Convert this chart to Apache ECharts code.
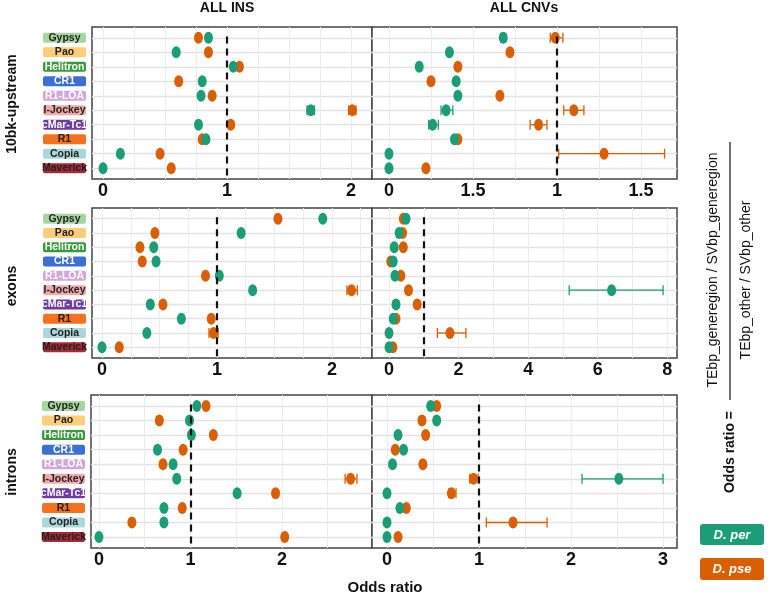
<!DOCTYPE html>
<html>
<head>
<meta charset="utf-8">
<script src="https://cdn.jsdelivr.net/npm/echarts@6/dist/echarts.min.js"></script>
<style>
html,body{margin:0;padding:0;background:#fff}
#main{width:770px;height:597px}
</style>
</head>
<body>
<div id="main"></div>
<script>
var families = ['Gypsy','Pao','Helitron','CR1','R1-LOA','I-Jockey','cMar-Tc1','R1','Copia','Maverick'];
var familyColors = ['#a6d6a0','#fdcd7a','#379b3c','#3b6fd2','#d2a6da','#f3a9a9','#6b3ca2','#f5711d','#aad7d7','#a42a36'];
var familyText = ['#222','#222','#fff','#fff','#fff','#222','#fff','#222','#222','#222'];

// odds ratios, one value per family (same order as families)
var insUpPer = [0.85, 0.59, 1.05, 0.80, 0.79, 1.675, 0.77, 0.83, 0.14, 0.0];
var insUpPse = [0.77, 0.85, 1.10, 0.61, 0.88, 2.01, 1.03, 0.80, 0.46, 0.55];
var cnvUpPer = [0.68, 0.36, 0.18, 0.40, 0.41, 0.34, 0.26, 0.39, 0.0, 0.0];
var cnvUpPse = [0.99, 0.72, 0.41, 0.25, 0.66, 1.10, 0.89, 0.41, 1.28, 0.22];
var insExPer = [1.92, 1.21, 0.45, 0.47, 1.02, 1.31, 0.42, 0.69, 0.39, 0.0];
var insExPse = [1.53, 0.46, 0.33, 0.35, 0.90, 2.17, 0.53, 0.95, 0.97, 0.15];
var cnvExPer = [0.49, 0.29, 0.15, 0.12, 0.17, 6.40, 0.20, 0.12, 0.0, 0.0];
var cnvExPse = [0.41, 0.39, 0.41, 0.05, 0.34, 0.56, 0.81, 0.20, 1.75, 0.11];
var insInPer = [1.07, 0.99, 1.01, 0.64, 0.81, 0.85, 1.51, 0.71, 0.71, 0.0];
var insInPse = [1.17, 0.66, 1.25, 0.92, 0.70, 2.75, 1.93, 0.91, 0.36, 2.03];
var cnvInPer = [0.475, 0.54, 0.12, 0.18, 0.06, 2.52, 0.0, 0.14, 0.0, 0.0];
var cnvInPse = [0.54, 0.38, 0.42, 0.09, 0.39, 0.94, 0.70, 0.21, 1.37, 0.12];

// confidence intervals: [row, low, high, species]
var insUpErr = [[5,1.645,1.705,'per'],[5,1.98,2.04,'pse']];
var cnvUpErr = [[0,0.665,0.695,'per'],[0,0.96,1.035,'pse'],[4,0.65,0.67,'pse'],[5,0.31,0.38,'per'],[5,1.04,1.16,'pse'],[6,0.236,0.294,'per'],[6,0.84,0.94,'pse'],[8,1.01,1.64,'pse']];
var insExErr = [[5,2.13,2.22,'pse'],[8,0.93,1.01,'pse']];
var cnvExErr = [[5,5.18,7.88,'per'],[8,1.39,2.21,'pse']];
var insInErr = [[5,2.69,2.82,'pse'],[9,2.01,2.05,'pse']];
var cnvInErr = [[5,0.90,0.99,'pse'],[5,2.12,3.00,'per'],[6,0.67,0.75,'pse'],[8,1.08,1.74,'pse']];

// x tick labels and grid lines
var insUpTicks = [0,1,2];          var insUpLabels = ['0','1','2'];
var cnvUpTicks = [0,0.5,1,1.5];    var cnvUpLabels = ['0','1.5','1','1.5'];
var insExTicks = [0,1,2];          var insExLabels = ['0','1','2'];
var cnvExTicks = [0,2,4,6,8];      var cnvExLabels = ['0','2','4','6','8'];
var insInTicks = [0,1,2];          var insInLabels = ['0','1','2'];
var cnvInTicks = [0,1,2,3];        var cnvInLabels = ['0','1','2','3'];
var insUpLines = [0,0.25,0.5,0.75,1,1.25,1.5,1.75,2];
var cnvUpLines = [0,0.25,0.5,0.75,1,1.25,1.5];
var insExLines = [0,0.25,0.5,0.75,1,1.25,1.5,1.75,2,2.25];
var cnvExLines = [0,1,2,3,4,5,6,7,8];
var insInLines = [0,0.5,1,1.5,2,2.5];
var cnvInLines = [0,0.5,1,1.5,2,2.5,3];

var perColor = '#1b9e77';
var pseColor = '#d95f02';

var panels = [
    {left:92, top:27, width:280, height:152, min:-0.089, max:2.169, per:insUpPer, pse:insUpPse, err:insUpErr, ticks:insUpTicks, labels:insUpLabels, lines:insUpLines, names:true},
    {left:372, top:27, width:305, height:152, min:-0.101, max:1.714, per:cnvUpPer, pse:cnvUpPse, err:cnvUpErr, ticks:cnvUpTicks, labels:cnvUpLabels, lines:cnvUpLines, names:false},
    {left:92, top:208, width:280, height:150, min:-0.087, max:2.348, per:insExPer, pse:insExPse, err:insExErr, ticks:insExTicks, labels:insExLabels, lines:insExLines, names:true},
    {left:372, top:208, width:305, height:150, min:-0.49, max:8.28, per:cnvExPer, pse:cnvExPse, err:cnvExErr, ticks:cnvExTicks, labels:cnvExLabels, lines:cnvExLines, names:false},
    {left:91, top:395, width:281, height:153, min:-0.087, max:2.984, per:insInPer, pse:insInPse, err:insInErr, ticks:insInTicks, labels:insInLabels, lines:insInLines, names:true},
    {left:372, top:395, width:305, height:153, min:-0.163, max:3.152, per:cnvInPer, pse:cnvInPse, err:cnvInErr, ticks:cnvInTicks, labels:cnvInLabels, lines:cnvInLines, names:false}
];

var rowIdx = families.map(function (f, i) { return i; });
var rich = {};
families.forEach(function (f, i) {
    rich['r' + i] = {
        backgroundColor: familyColors[i],
        color: familyText[i],
        width: 43,
        height: 10,
        lineHeight: 10,
        align: 'center',
        borderRadius: 2,
        fontSize: 10.5,
        fontWeight: 'bold',
        fontFamily: 'Liberation Sans'
    };
});

function errItem(params, api) {
    var lo = api.coord([api.value(1), api.value(0)]);
    var hi = api.coord([api.value(2), api.value(0)]);
    var c = api.visual('color');
    var st = {stroke: c, lineWidth: 1.3};
    return {type: 'group', children: [
        {type: 'line', shape: {x1: lo[0], y1: lo[1], x2: hi[0], y2: hi[1]}, style: st},
        {type: 'line', shape: {x1: lo[0], y1: lo[1] - 5, x2: lo[0], y2: lo[1] + 5}, style: st},
        {type: 'line', shape: {x1: hi[0], y1: hi[1] - 5, x2: hi[0], y2: hi[1] + 5}, style: st}
    ]};
}

var grids = [], xAxes = [], yAxes = [], series = [];
panels.forEach(function (p, i) {
    grids.push({left: p.left, top: p.top, width: p.width, height: p.height, show: true,
        borderColor: '#444', borderWidth: 1.5, backgroundColor: '#fff'});
    xAxes.push({
        type: 'value', gridIndex: i, min: p.min, max: p.max,
        axisLine: {show: false},
        axisTick: {show: false, customValues: p.lines},
        splitLine: {show: true, lineStyle: {color: '#ebebeb', width: 1}},
        axisLabel: {
            customValues: p.ticks, margin: 3,
            fontSize: 18, fontWeight: 'bold', color: '#111', fontFamily: 'Liberation Sans',
            formatter: function (v) {
                var k = p.ticks.indexOf(v);
                return k >= 0 ? p.labels[k] : '';
            }
        }
    });
    yAxes.push({
        type: 'value', gridIndex: i, min: -0.75, max: 9.75, inverse: true,
        axisLine: {show: false},
        axisTick: {show: false, customValues: rowIdx},
        splitLine: {show: true, lineStyle: {color: '#e3e3e3', width: 1.3}},
        axisLabel: {
            show: p.names, customValues: rowIdx, margin: 6,
            formatter: function (v) { return '{r' + v + '|' + families[v] + '}'; },
            rich: rich
        }
    });
    series.push({
        type: 'line', xAxisIndex: i, yAxisIndex: i, data: [], z: 1,
        markLine: {
            silent: true, symbol: 'none', label: {show: false},
            lineStyle: {color: '#111', width: 2.2, type: [7, 5]},
            data: [[{coord: [1, -0.1]}, {coord: [1, 9.75]}]]
        }
    });
    series.push({
        type: 'custom', xAxisIndex: i, yAxisIndex: i, z: 2,
        renderItem: errItem,
        encode: {x: [1, 2], y: 0},
        data: p.err.map(function (e) {
            return {value: [e[0], e[1], e[2]], itemStyle: {color: e[3] === 'per' ? perColor : pseColor}};
        })
    });
    series.push({
        name: 'D. pse', type: 'scatter', xAxisIndex: i, yAxisIndex: i, z: 3,
        symbol: 'circle', symbolSize: [9, 12],
        itemStyle: {color: pseColor, opacity: 1},
        data: p.pse.map(function (v, r) { return [v, r]; })
    });
    series.push({
        name: 'D. per', type: 'scatter', xAxisIndex: i, yAxisIndex: i, z: 3,
        symbol: 'circle', symbolSize: [9, 12],
        itemStyle: {color: perColor, opacity: 1},
        data: p.per.map(function (v, r) { return [v, r]; })
    });
});

var boldText = {fontFamily: 'Liberation Sans', fontWeight: 'bold', fill: '#111', align: 'center', verticalAlign: 'middle'};
function txt(x, y, s, size, rot, extra) {
    var style = Object.assign({}, boldText, {text: s, fontSize: size}, extra || {});
    return {type: 'text', x: x, y: y, rotation: rot || 0, style: style};
}

var chart = echarts.init(document.getElementById('main'));
chart.setOption({
    backgroundColor: '#fff',
    animation: false,
    grid: grids,
    xAxis: xAxes,
    yAxis: yAxes,
    series: series,
    graphic: [
        txt(227, 8, 'ALL INS', 14),
        txt(524, 8, 'ALL CNVs', 14),
        txt(12, 104, '10bk-upstream', 14, Math.PI / 2),
        txt(12, 286, 'exons', 14, Math.PI / 2),
        txt(12, 472, 'introns', 14, Math.PI / 2),
        txt(385, 588, 'Odds ratio', 15),
        txt(713, 270, 'TEbp_generegion / SVbp_generegion', 14, Math.PI / 2, {fontWeight: 'normal', fontFamily: 'Liberation Sans'}),
        {type: 'line', shape: {x1: 730, y1: 142, x2: 730, y2: 400}, style: {stroke: '#111', lineWidth: 1.2}},
        txt(746, 280, 'TEbp_other / SVbp_other', 14, Math.PI / 2, {fontWeight: 'normal'}),
        txt(730, 452, 'Odds ratio =', 14, Math.PI / 2),
        {type: 'rect', shape: {x: 700, y: 524, width: 64, height: 21, r: 3}, style: {fill: perColor}},
        txt(732, 535, 'D. per', 13, 0, {fill: '#fff', fontStyle: 'italic'}),
        {type: 'rect', shape: {x: 700, y: 558, width: 64, height: 22, r: 3}, style: {fill: pseColor}},
        txt(732, 569, 'D. pse', 13, 0, {fill: '#fff', fontStyle: 'italic'})
    ]
});
</script>
</body>
</html>
